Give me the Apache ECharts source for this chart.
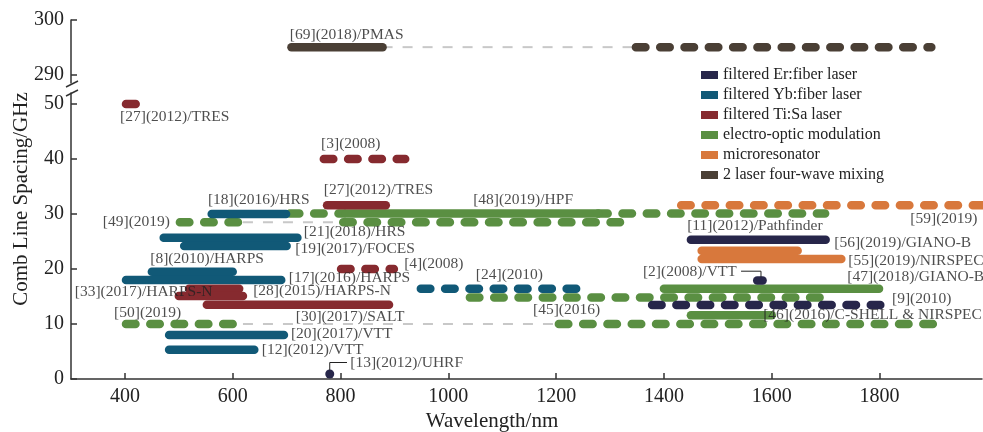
<!DOCTYPE html>
<html><head><meta charset="utf-8">
<script src="https://cdn.jsdelivr.net/npm/echarts@6/dist/echarts.min.js"></script>
<style>html,body{margin:0;padding:0;background:#fff}#c{width:983px;height:432px}</style>
</head><body><div id="c"></div>
<script>
// ---- data: [start nm, end nm, comb line spacing GHz] ----
const erSolid = [[1450,1700,25.3],[1573,1583,17.9]];
const erDashed = [[1378,1805,13.45]];
const erDots = [[780,0.9]];
const ybSolid = [[561,699,30],[472,720,25.7],[510,700,24.2],[450,600,19.5],[402,690,18.0],[482,695,8.0],[482,640,5.3]];
const ybDashed = [[949,1241,16.4]];
const tiSolid = [[402,420,50],[775,884,31.6],[519,612,16.4],[500,619,15.1],[552,890,13.5]];
const tiDashed = [[769,920,40],[801,899,20]];
const eoSolid = [[810,1278,30.1],[1400,1799,16.4],[1450,1600,11.6]];
const eoDashed = [[706,806,30.1],[1278,1699,30.1],[502,619,28.5],[805,1344,28.5],[402,619,10],[1205,1899,10],[1040,1697,14.8]];
const microSolid = [[1470,1648,23.3],[1470,1729,21.8]];
const microDashed = [[1432,2060,31.6]];
const fwmSolid = [[709,878,295]];
const fwmDashed = [[1348,1896,295]];
const grayLinks = [[619,805,28.5],[619,1205,10]];
const grayLinksTop = [[878,1348,295]];
const leader13 = [[780,1.6],[780,3.0],[812,3.0]];
const leader2 = [[1543,19.6],[1580,19.6],[1580,18.5]];
const xTicks = [400,600,800,1000,1200,1400,1600,1800];
const yTicksLow = [0,10,20,30,40,50];
const yTicksHigh = [290,300];
const legendNames = ['filtered Er:fiber laser','filtered Yb:fiber laser','filtered Ti:Sa laser','electro-optic modulation','microresonator','2 laser four-wave mixing'];
const labelsLow = [
  ['[27](2012)/TRES',391,47.6],['[3](2008)',764,42.7],['[27](2012)/TRES',769,34.4],
  ['[18](2016)/HRS',554,32.5],['[48](2019)/HPF',1046,32.5],['[49](2019)',359,28.5],
  ['[21](2018)/HRS',732,26.7],['[19](2017)/FOCES',716,23.6],['[8](2010)/HARPS',447,21.9],
  ['[4](2008)',918,21.0],['[17](2016)/HARPS',704,18.4],['[24](2010)',1051,18.9],
  ['[33](2017)/HARPS-N',307,15.9],['[28](2015)/HARPS-N',638,16.1],['[50](2019)',380,12.1],
  ['[30](2017)/SALT',717,11.3],['[20](2017)/VTT',708,8.2],['[12](2012)/VTT',654,5.3],
  ['[13](2012)/UHRF',818,3.0],['[45](2016)',1157,12.5],['[11](2012)/Pathfinder',1443,27.8],
  ['[56](2019)/GIANO-B',1716,24.7],['[55](2019)/NIRSPEC',1742,21.5],['[2](2008)/VTT',1361,19.5],
  ['[47](2018)/GIANO-B',1740,18.5],['[9](2010)',1823,14.5],['[46](2016)/C-SHELL & NIRSPEC',1584,11.6],
  ['[59](2019)',1857,29.1]
];
const labelsHigh = [['[69](2018)/PMAS',706,297.2]];

const C = {er:'#27264a', yb:'#115977', ti:'#862a2f', eo:'#5a8f42', mi:'#d8783c', fwm:'#4a3f35', gray:'#c8c8c8'};
const FONT = "'Liberation Serif','Times New Roman',serif";

function bars(list, color, name, dashed, gi){
  return list.map(d => ({
    type:'line', name, xAxisIndex:gi, yAxisIndex:gi,
    data:[[d[0],d[2]],[d[1],d[2]]], symbol:'none', silent:true, clip:true,
    color, itemStyle:{color},
    lineStyle:{color, width:8.5, cap:'round', opacity:1, type: dashed ? [9.5,14.8] : 'solid'},
    z: dashed ? 2 : 3
  }));
}
function links(list, gi){
  return list.map(d => ({
    type:'line', xAxisIndex:gi, yAxisIndex:gi, data:[[d[0],d[2]],[d[1],d[2]]],
    symbol:'none', silent:true, lineStyle:{color:C.gray, width:2, type:[10,10]}, z:1
  }));
}
function leader(pts){
  return {type:'line', xAxisIndex:1, yAxisIndex:1, data:pts, symbol:'none', silent:true,
    lineStyle:{color:'#222', width:1}, z:4};
}
function labels(list, gi){
  return {type:'scatter', xAxisIndex:gi, yAxisIndex:gi, symbolSize:0, silent:true, z:10,
    data:list.map(l => ({name:l[0], value:[l[1],l[2]]})),
    label:{show:true, position:'right', distance:0, formatter:'{b}', fontFamily:FONT, fontSize:15.5, color:'#222'}};
}

const series = [].concat(
  links(grayLinksTop,0), links(grayLinks,1),
  bars(eoDashed,C.eo,legendNames[3],true,1), bars(eoSolid,C.eo,legendNames[3],false,1),
  bars(microDashed,C.mi,legendNames[4],true,1), bars(microSolid,C.mi,legendNames[4],false,1),
  bars(ybDashed,C.yb,legendNames[1],true,1), bars(ybSolid,C.yb,legendNames[1],false,1),
  bars(tiDashed,C.ti,legendNames[2],true,1), bars(tiSolid,C.ti,legendNames[2],false,1),
  bars(erDashed,C.er,legendNames[0],true,1), bars(erSolid,C.er,legendNames[0],false,1),
  [{type:'scatter', name:legendNames[0], xAxisIndex:1, yAxisIndex:1, data:erDots, symbol:'circle', symbolSize:9, silent:true, itemStyle:{color:C.er, opacity:1}, z:3}],
  bars(fwmDashed,C.fwm,legendNames[5],true,0), bars(fwmSolid,C.fwm,legendNames[5],false,0),
  [leader(leader13), leader(leader2)],
  [labels(labelsHigh,0), labels(labelsLow,1)]
);

const axisLine = {show:true, lineStyle:{color:'#333', width:1.5}};
const xBase = {type:'value', min:300, max:1990, splitLine:{show:false}};
const chart = echarts.init(document.getElementById('c'), null, {renderer:'canvas'});
chart.setOption({
  animation:false,
  backgroundColor:'#fff',
  grid:[
    {left:71, right:1, top:20, height:63, outerBoundsMode:'none', containLabel:false},
    {left:71, right:1, top:93, bottom:53, outerBoundsMode:'none', containLabel:false}
  ],
  xAxis:[
    Object.assign({gridIndex:0, show:false}, xBase),
    Object.assign({gridIndex:1, axisLine,
      axisTick:{show:true, inside:true, length:6, customValues:xTicks, lineStyle:{color:'#333', width:1.5}},
      axisLabel:{customValues:xTicks, formatter:v => String(v), fontFamily:FONT, fontSize:20, color:'#222', margin:8}}, xBase)
  ],
  yAxis:[
    {type:'value', gridIndex:0, min:288.4, max:300, splitLine:{show:false}, axisLine,
     axisTick:{show:true, inside:true, length:6, customValues:yTicksHigh, lineStyle:{color:'#333', width:1.5}},
     axisLabel:{customValues:yTicksHigh, formatter:v => String(v), fontFamily:FONT, fontSize:20, color:'#222', margin:7}},
    {type:'value', gridIndex:1, min:0, max:52, splitLine:{show:false}, axisLine,
     axisTick:{show:true, inside:true, length:6, customValues:yTicksLow, lineStyle:{color:'#333', width:1.5}},
     axisLabel:{customValues:yTicksLow, formatter:v => String(v), fontFamily:FONT, fontSize:20, color:'#222', margin:7}}
  ],
  legend:{
    orient:'vertical', left:701, top:67, padding:0, itemWidth:17, itemHeight:8, itemGap:4,
    icon:'rect', selectedMode:false,
    textStyle:{fontFamily:FONT, fontSize:16, color:'#222', lineHeight:16},
    data:legendNames.map((n,i) => ({name:n, icon:'rect',
      itemStyle:{color:[C.er,C.yb,C.ti,C.eo,C.mi,C.fwm][i], borderWidth:0}}))
  },
  graphic:[
    {type:'text', x:492, y:421, style:{text:'Wavelength/nm', font:'21px '+FONT, fill:'#222', textAlign:'center', textVerticalAlign:'middle'}},
    {type:'text', x:21, y:199, rotation:Math.PI/2, style:{text:'Comb Line Spacing/GHz', font:'21px '+FONT, fill:'#222', textAlign:'center', textVerticalAlign:'middle'}},
    {type:'line', shape:{x1:66, y1:87, x2:78, y2:81}, style:{stroke:'#333', lineWidth:1.5}},
    {type:'line', shape:{x1:66, y1:96, x2:78, y2:90}, style:{stroke:'#333', lineWidth:1.5}}
  ],
  series
});
</script></body></html>
